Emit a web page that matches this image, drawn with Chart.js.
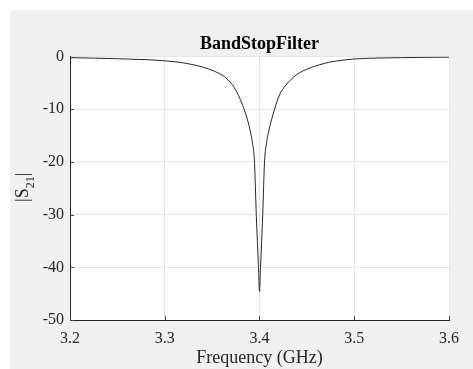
<!DOCTYPE html>
<html>
<head>
<meta charset="utf-8">
<script src="https://cdn.jsdelivr.net/npm/chart.js@4"></script>
<style>
  html, body { margin: 0; padding: 0; background: #fff; }
</style>
</head>
<body>
<canvas id="chart" width="473" height="369"></canvas>
<script>
// values
const freqGHz = [3.2, 3.25, 3.3, 3.326, 3.3527, 3.3668, 3.3757, 3.3838, 3.387, 3.39, 3.3925, 3.3947, 3.3966, 3.3989, 3.4,
                 3.4011, 3.4034, 3.4053, 3.4075, 3.41, 3.413, 3.4159, 3.421, 3.428, 3.4386, 3.4527, 3.4739, 3.485, 3.5, 3.55, 3.6];
const s21dB = [-0.2, -0.4, -0.8, -1.4, -2.8, -4.4, -6.6, -10, -11.8, -13.9, -16.3, -20, -30, -40, -44.6,
               -40, -30, -20, -16.3, -13.9, -11.8, -10, -7.3, -5.4, -3.5, -2.2, -1.06, -0.75, -0.45, -0.2, -0.1];
const xTicks = [3.2, 3.3, 3.4, 3.5, 3.6];
const yTicks = [-50, -40, -30, -20, -10, 0];

const serif = "'Liberation Serif', 'Times New Roman', serif";
Chart.defaults.font.family = serif;

// figure background: grey panel, white axes box
const background = {
  id: 'background',
  beforeDraw(chart) {
    const { ctx, width, height, chartArea: a } = chart;
    ctx.save();
    ctx.fillStyle = '#fff';
    ctx.fillRect(0, 0, width, height);
    ctx.fillStyle = '#f0f0f0';
    ctx.fillRect(10, 10, width - 10, height - 10);
    ctx.fillStyle = '#fff';
    ctx.fillRect(a.left, a.top, a.right - a.left, a.bottom - a.top);
    ctx.restore();
  }
};

// MATLAB style inward ticks and the |S21| label with subscript
const extras = {
  id: 'extras',
  afterDraw(chart) {
    const { ctx, chartArea: a, scales } = chart;
    ctx.save();
    ctx.strokeStyle = '#444';
    ctx.lineWidth = 1;
    ctx.beginPath();
    scales.x.ticks.forEach(t => {
      const px = Math.round(scales.x.getPixelForValue(t.value)) + 0.5;
      ctx.moveTo(px, a.bottom);
      ctx.lineTo(px, a.bottom - 4);
    });
    scales.y.ticks.forEach(t => {
      const py = Math.round(scales.y.getPixelForValue(t.value)) + 0.5;
      ctx.moveTo(a.left, py);
      ctx.lineTo(a.left + 4, py);
    });
    ctx.stroke();

    ctx.translate(28, (a.top + a.bottom) / 2 - 1);
    ctx.rotate(-Math.PI / 2);
    ctx.fillStyle = '#262626';
    ctx.textBaseline = 'alphabetic';
    ctx.textAlign = 'left';
    const big = '18px ' + serif, small = '12px ' + serif;
    ctx.font = big;
    const w1 = ctx.measureText('|S').width;
    const w3 = ctx.measureText('|').width;
    ctx.font = small;
    const w2 = ctx.measureText('21').width;
    let x = -(w1 + w2 + w3) / 2;
    ctx.font = big;
    ctx.fillText('|S', x, 0);
    ctx.font = small;
    ctx.fillText('21', x + w1, 6);
    ctx.font = big;
    ctx.fillText('|', x + w1 + w2, 0);
    ctx.restore();
  }
};

new Chart(document.getElementById('chart'), {
  type: 'line',
  data: {
    datasets: [{
      data: freqGHz.map((f, i) => ({ x: f, y: s21dB[i] })),
      borderColor: '#262626',
      borderWidth: 1,
      pointRadius: 0,
      cubicInterpolationMode: 'monotone',
      fill: false
    }]
  },
  options: {
    responsive: false,
    animation: false,
    events: [],
    layout: { padding: { left: 0, right: 24, top: 0, bottom: 0 } },
    plugins: {
      legend: { display: false },
      tooltip: { enabled: false },
      title: {
        display: true,
        fullSize: false,
        text: 'BandStopFilter',
        color: '#000',
        font: { family: serif, size: 18, weight: 'bold' },
        padding: { top: 34, bottom: 1 }
      }
    },
    scales: {
      x: {
        type: 'linear',
        min: 3.2,
        max: 3.6,
        afterBuildTicks: s => { s.ticks = xTicks.map(v => ({ value: v })); },
        afterFit: s => { s.height = 49; },
        ticks: {
          callback: v => v.toFixed(1),
          color: '#262626',
          font: { size: 16 },
          padding: 9,
          maxRotation: 0,
          autoSkip: false
        },
        grid: { color: '#e6e6e6', drawTicks: false },
        border: { color: '#262626' },
        title: {
          display: true,
          text: 'Frequency (GHz)',
          color: '#262626',
          font: { size: 18 },
          padding: { top: 0, bottom: 0 }
        }
      },
      y: {
        min: -50,
        max: 0,
        afterBuildTicks: s => { s.ticks = yTicks.map(v => ({ value: v })); },
        afterFit: s => { s.width = 70; },
        ticks: {
          color: '#262626',
          font: { size: 16 },
          padding: 6
        },
        grid: { color: '#e6e6e6', drawTicks: false },
        border: { color: '#262626' }
      }
    }
  },
  plugins: [background, extras]
});
</script>
</body>
</html>
